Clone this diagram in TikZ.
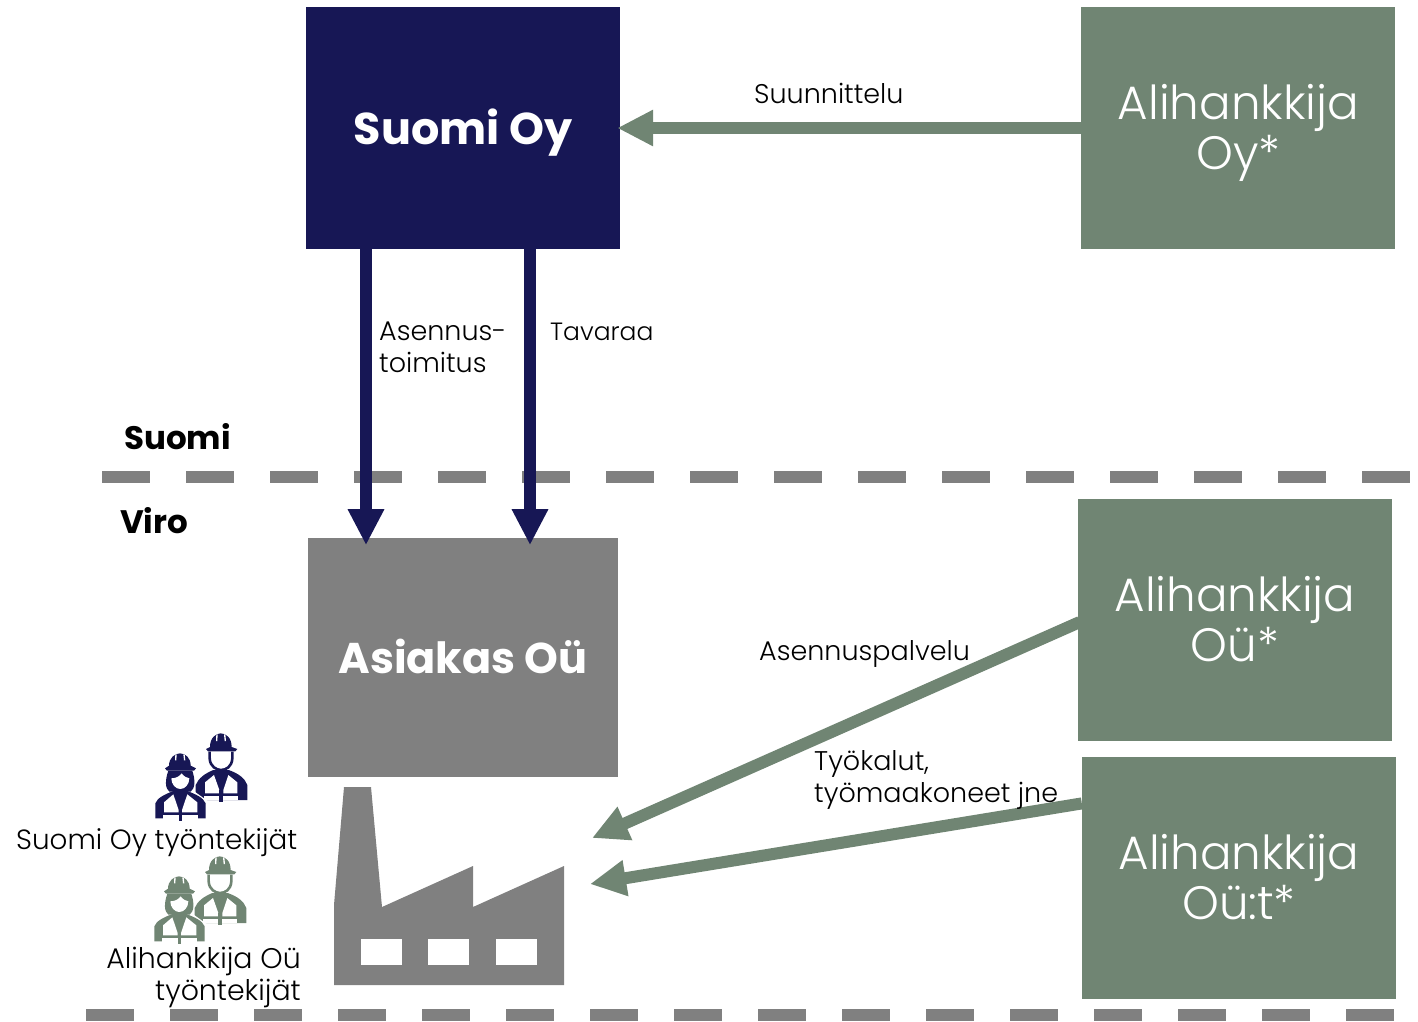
\documentclass[tikz,border=0pt]{standalone}
\usepackage{fontspec}
\setmainfont{Poppins Light}[BoldFont=Poppins Bold]
\usetikzlibrary{arrows.meta,positioning}
\definecolor{navy}{HTML}{171755}
\definecolor{sage}{HTML}{708573}
\definecolor{midgray}{HTML}{808080}
\newcommand{\bigtext}{\fontsize{46.8}{50}\selectfont}
\newcommand{\labeltext}{\fontsize{27}{32}\selectfont}
\newcommand{\headtext}{\fontsize{43}{48}\selectfont\bfseries}
\newcommand{\sidetext}{\fontsize{32.5}{36}\selectfont\bfseries}
\tikzset{
  workers/.pic={
    % man
    \fill[#1] (228,72) -- (240,66) .. controls (240,38) and (258,25) .. (272,25)
      .. controls (288,25) and (305,38) .. (305,66) -- (322,72) -- (316,79) -- (234,79) -- cycle;
    \fill[white] (259,28) -- (263,28) -- (262,48) -- (258,48) -- cycle;
    \fill[white] (282,28) -- (286,28) -- (288,48) -- (284,48) -- cycle;
    \draw[#1, line width=2.6pt] (239,80) -- (239,100) .. controls (240,125) and (260,135) .. (273,135)
      .. controls (288,135) and (306,125) .. (307,100) -- (307,80);
    \fill[#1] (197,225) -- (197,180) .. controls (205,160) and (225,145) .. (250,135) -- (296,135)
      .. controls (325,145) and (345,160) .. (352,180) -- (352,225) -- cycle;
    \fill[white] (225,172) -- (252,150) -- (268,195) -- (268,205) -- (225,205) -- cycle;
    \fill[white] (322,172) -- (295,150) -- (280,195) -- (280,205) -- (322,205) -- cycle;
    \fill[white] (222,214) rectangle (325,225);
    \fill[#1] (268,195) rectangle (280,230);
    % woman
    \fill[white] (68,290) -- (68,230) -- (125,190) -- (180,190) -- (236,230) -- (236,290) -- cycle;
    \fill[#1] (105,130) -- (117,122) .. controls (117,98) and (135,85) .. (150,85)
      .. controls (166,85) and (182,98) .. (182,122) -- (198,130) -- (192,137) -- (111,137) -- cycle;
    \fill[white] (136,88) -- (140,88) -- (139,106) -- (135,106) -- cycle;
    \fill[white] (160,88) -- (164,88) -- (166,106) -- (162,106) -- cycle;
    \fill[#1] (115,137) .. controls (105,165) and (105,190) .. (118,200) -- (182,200)
      .. controls (196,190) and (196,165) .. (187,137) -- cycle;
    \fill[white] (124,160) .. controls (140,160) and (150,152) .. (155,145)
      .. controls (162,155) and (170,158) .. (178,160) .. controls (178,178) and (165,192) .. (151,192)
      .. controls (137,192) and (124,178) .. (124,160) -- cycle;
    \fill[#1] (76,280) -- (76,235) .. controls (82,218) and (105,208) .. (130,198) -- (172,198)
      .. controls (198,208) and (220,218) .. (227,235) -- (227,280) -- cycle;
    \fill[white] (102,232) -- (130,208) -- (146,255) -- (146,262) -- (102,262) -- cycle;
    \fill[white] (202,232) -- (172,208) -- (156,255) -- (156,262) -- (202,262) -- cycle;
    \fill[white] (100,271) rectangle (203,281);
    \fill[#1] (146,250) rectangle (156,288);
  }
}
\begin{document}
\begin{tikzpicture}[
  x=1pt, y=-1pt,
  bigbox/.style={rectangle, inner sep=0pt, minimum width=314pt, minimum height=242pt,
                 text=white, align=center},
  subbox/.style={bigbox, fill=sage, font=\bigtext, text height=90pt, text depth=8pt},
  thinarr/.style={-{Triangle[length=36pt,width=34pt]}, line width=12pt},
  border/.style={midgray, line width=12pt, dash pattern=on 48pt off 36pt},
  lbl/.style={font=\labeltext, inner sep=0pt, anchor=base west, align=left},
  side/.style={font=\sidetext, inner sep=0pt, anchor=base west},
  node distance=0pt
]
  \useasboundingbox (0,0) rectangle (1418,1021);

  \node[bigbox, fill=navy, font=\headtext\fontsize{44.5}{48}\selectfont, text height=42pt, text depth=10pt] (suomi) at (463,128) {Suomi Oy};
  \node[subbox, right=461pt of suomi] (aliOy) {Alihankkija\\Oy*};
  \node[bigbox, fill=midgray, font=\headtext, text height=42pt, text depth=10pt, minimum width=310pt,
        minimum height=239pt, below=289pt of suomi] (asiakas) {Asiakas Oü};
  \node[subbox] (aliOu) at (1235,620) {Alihankkija\\Oü*};
  \node[subbox, below=16pt of aliOu, xshift=4pt] (aliOut) {Alihankkija\\Oü:t*};

  % factory
  \fill[midgray] (334,985) -- (334,905) -- (344,787) -- (371,787) -- (382,907) -- (473,866)
    -- (473,907) -- (564,866) -- (564,985) -- cycle;
  \foreach \wx in {361,428,496}
    \fill[white] (\wx,939) rectangle +(41,26);
  \coordinate (factoryA) at (592,838);
  \coordinate (factoryB) at (590,884);

  % borders
  \coordinate (borderA) at (102,477);
  \coordinate (borderAend) at (1418,477);
  \coordinate (borderB) at (86,1015);
  \coordinate (borderBend) at (1402,1015);
  \draw[border] (borderA) -- (borderAend);
  \draw[border] (borderB) -- (borderBend);

  % connectors
  \draw[thinarr, sage] (aliOy.west) -- ([xshift=-3pt]suomi.east);
  \draw[thinarr, navy] ([xshift=-97pt]suomi.south) -- ([xshift=-97pt,yshift=-7pt]asiakas.north);
  \draw[thinarr, navy] ([xshift=67pt]suomi.south) -- ([xshift=67pt,yshift=-7pt]asiakas.north);
  \draw[thinarr, sage] ([xshift=2pt,yshift=-2pt]aliOu.west) -- (factoryA);
  \draw[thinarr, sage] ([yshift=75pt]aliOut.west) -- (factoryB);

  \node[lbl] (lblSuunn) at (754,103) {Suunnittelu};
  \node[lbl] (lblAsennus) at (379,372) {Asennus-\\toimitus};
  \node[lbl, font=\fontsize{25}{32}\selectfont] (lblTavara) at (550,340) {Tavaraa};
  \node[lbl] (lblPalvelu) at (759,660) {Asennuspalvelu};
  \node[lbl] (lblTyokalut) at (814,802) {Työkalut,\\työmaakoneet jne};
  \node[side] (lblSuomi) at (124,449) {Suomi};
  \node[side] (lblViro) at (120,533) {Viro};

  \pic[scale=1/3] at (130,725) {workers=navy};
  \pic[scale=1/3] at (129,848) {workers=sage};
  \node[lbl, font=\fontsize{27.8}{32}\selectfont] (lblSuomiOy) at (16,849) {Suomi Oy työntekijät};
  \node[lbl, font=\fontsize{28.4}{32}\selectfont, anchor=base east, align=right] (lblAliOu) at (301,1000) {Alihankkija Oü\\työntekijät};
\end{tikzpicture}
\end{document}
